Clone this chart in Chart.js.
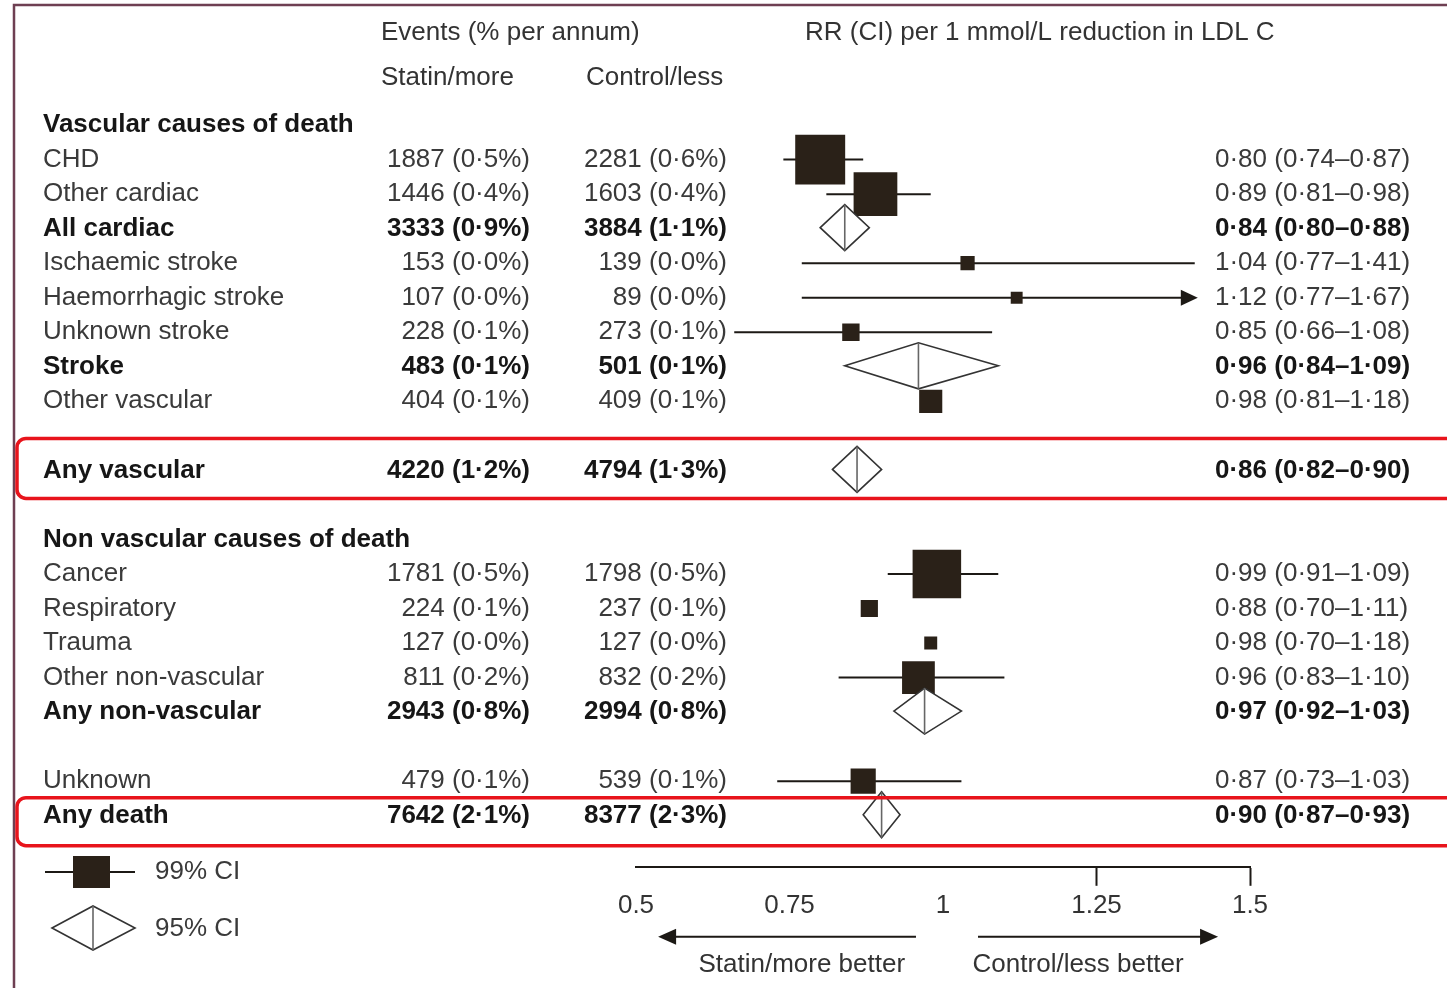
<!DOCTYPE html>
<html>
<head>
<meta charset="utf-8">
<script src="https://cdn.jsdelivr.net/npm/chart.js@4.4.1/dist/chart.umd.min.js"></script>
<style>
  html, body { margin: 0; padding: 0; background: #fff; }
  #wrap { width: 1447px; height: 988px; position: relative; }
</style>
</head>
<body>
<div id="wrap"><canvas id="forest"></canvas></div>
<script>
// rows, top to bottom ('' = spacer row)
const rowLabels = ['Vascular causes of death', 'CHD', 'Other cardiac', 'All cardiac', 'Ischaemic stroke',
    'Haemorrhagic stroke', 'Unknown stroke', 'Stroke', 'Other vascular', '', 'Any vascular', '',
    'Non vascular causes of death', 'Cancer', 'Respiratory', 'Trauma', 'Other non-vascular',
    'Any non-vascular', '', 'Unknown', 'Any death'];
const rowType = ['header', 'item', 'item', 'total', 'item', 'item', 'item', 'total', 'item', '', 'total', '',
    'header', 'item', 'item', 'item', 'item', 'total', '', 'item', 'total'];

const statinEvents  = [null, 1887, 1446, 3333, 153, 107, 228, 483, 404, null, 4220, null, null, 1781, 224, 127, 811, 2943, null, 479, 7642];
const statinPct     = [null, 0.5, 0.4, 0.9, 0.0, 0.0, 0.1, 0.1, 0.1, null, 1.2, null, null, 0.5, 0.1, 0.0, 0.2, 0.8, null, 0.1, 2.1];
const controlEvents = [null, 2281, 1603, 3884, 139, 89, 273, 501, 409, null, 4794, null, null, 1798, 237, 127, 832, 2994, null, 539, 8377];
const controlPct    = [null, 0.6, 0.4, 1.1, 0.0, 0.0, 0.1, 0.1, 0.1, null, 1.3, null, null, 0.5, 0.1, 0.0, 0.2, 0.8, null, 0.1, 2.3];

const rr     = [null, 0.80, 0.89, 0.84, 1.04, 1.12, 0.85, 0.96, 0.98, null, 0.86, null, null, 0.99, 0.88, 0.98, 0.96, 0.97, null, 0.87, 0.90];
const ciLow  = [null, 0.74, 0.81, 0.80, 0.77, 0.77, 0.66, 0.84, 0.81, null, 0.82, null, null, 0.91, 0.70, 0.70, 0.83, 0.92, null, 0.73, 0.87];
const ciHigh = [null, 0.87, 0.98, 0.88, 1.41, 1.67, 1.08, 1.09, 1.18, null, 0.90, null, null, 1.09, 1.11, 1.18, 1.10, 1.03, null, 1.03, 0.93];

const tickValues = [0.5, 0.75, 1, 1.25, 1.5];
const tickLabels = ['0.5', '0.75', '1', '1.25', '1.5'];

// whiskers that do not show in the source figure
const hiddenWhiskers = ['Other vascular', 'Respiratory', 'Trauma'];
const CLIP_MAX = 1.415;

// hand-drawn red boxes (pixel offsets above / below the row)
const highlightBoxes = [
    {row: 'Any vascular', up: 32, down: 28},
    {row: 'Any death', up: 18, down: 30}
];

const FONT = '"Liberation Sans", Arial, sans-serif';
const INK = '#1c1915';
const fmt1 = v => v.toFixed(1).replace('.', '·');
const fmt2 = v => v.toFixed(2).replace('.', '·');

// square side grows with sqrt of events
const squarePoints = [];
const squareRadius = [];
rowType.forEach((t, i) => {
    if (t !== 'item') return;
    squarePoints.push({x: rr[i], y: i});
    squareRadius.push(1.15 * Math.sqrt(statinEvents[i]) / (2 * Math.SQRT1_2));
});

function roundRect(ctx, x, y, w, h, r) {
    ctx.beginPath();
    ctx.moveTo(x + r, y);
    ctx.lineTo(x + w - r, y);
    ctx.arcTo(x + w, y, x + w, y + r, r);
    ctx.lineTo(x + w, y + h - r);
    ctx.arcTo(x + w, y + h, x + w - r, y + h, r);
    ctx.lineTo(x + r, y + h);
    ctx.arcTo(x, y + h, x, y + h - r, r);
    ctx.lineTo(x, y + r);
    ctx.arcTo(x, y, x + r, y, r);
    ctx.closePath();
}

function diamond(ctx, xl, xc, xr, yc, h) {
    ctx.beginPath();
    ctx.moveTo(xl, yc);
    ctx.lineTo(xc, yc - h);
    ctx.lineTo(xr, yc);
    ctx.lineTo(xc, yc + h);
    ctx.closePath();
    ctx.fillStyle = '#fff';
    ctx.fill();
    ctx.strokeStyle = '#333';
    ctx.lineWidth = 1.6;
    ctx.stroke();
    ctx.beginPath();
    ctx.moveTo(xc, yc - h);
    ctx.lineTo(xc, yc + h);
    ctx.strokeStyle = '#666';
    ctx.stroke();
}

const forestPlugin = {
    id: 'forest',
    beforeDraw(chart) {
        const ctx = chart.ctx;
        ctx.save();
        ctx.fillStyle = '#fff';
        ctx.fillRect(0, 0, chart.width, chart.height);
        ctx.restore();
    },
    beforeDatasetsDraw(chart) {
        const {ctx, scales: {x, y}} = chart;
        ctx.save();
        ctx.strokeStyle = INK;
        ctx.fillStyle = INK;
        ctx.lineWidth = 2;
        rowType.forEach((t, i) => {
            if (t !== 'item' || hiddenWhiskers.includes(rowLabels[i])) return;
            const py = y.getPixelForValue(i);
            const x0 = x.getPixelForValue(ciLow[i]);
            const clipped = ciHigh[i] > CLIP_MAX;
            const x1 = x.getPixelForValue(Math.min(ciHigh[i], CLIP_MAX));
            ctx.beginPath();
            ctx.moveTo(x0, py);
            ctx.lineTo(clipped ? x1 - 10 : x1, py);
            ctx.stroke();
            if (clipped) {
                ctx.beginPath();
                ctx.moveTo(x1, py);
                ctx.lineTo(x1 - 17, py - 8);
                ctx.lineTo(x1 - 17, py + 8);
                ctx.closePath();
                ctx.fill();
            }
        });
        ctx.restore();
    },
    afterDraw(chart) {
        const {ctx, scales: {x, y}, chartArea} = chart;
        ctx.save();

        // frame of the source figure
        ctx.strokeStyle = '#6e3f52';
        ctx.lineWidth = 2.5;
        ctx.beginPath();
        ctx.moveTo(14, 988);
        ctx.lineTo(14, 5);
        ctx.lineTo(1447, 5);
        ctx.stroke();

        // diamonds for totals
        rowType.forEach((t, i) => {
            if (t !== 'total') return;
            diamond(ctx, x.getPixelForValue(ciLow[i]), x.getPixelForValue(rr[i]),
                x.getPixelForValue(ciHigh[i]), y.getPixelForValue(i) - 1, 23);
        });

        // column headers
        ctx.textBaseline = 'middle';
        ctx.fillStyle = '#333';
        ctx.font = '26px ' + FONT;
        ctx.textAlign = 'left';
        ctx.fillText('Events (% per annum)', 381, y.getPixelForValue(-2.67));
        ctx.fillText('Statin/more', 381, y.getPixelForValue(-1.36));
        ctx.fillText('Control/less', 586, y.getPixelForValue(-1.36));
        ctx.fillText('RR (CI) per 1 mmol/L reduction in LDL C', 805, y.getPixelForValue(-2.67));

        // table text
        rowLabels.forEach((lab, i) => {
            if (!lab) return;
            const py = y.getPixelForValue(i);
            const bold = rowType[i] !== 'item';
            ctx.font = (bold ? 'bold ' : '') + '26px ' + FONT;
            ctx.fillStyle = bold ? '#161616' : '#3a3a3a';
            ctx.textAlign = 'left';
            ctx.fillText(lab, 43, py);
            if (rowType[i] === 'header') return;
            ctx.textAlign = 'right';
            ctx.fillText(statinEvents[i] + ' (' + fmt1(statinPct[i]) + '%)', 530, py);
            ctx.fillText(controlEvents[i] + ' (' + fmt1(controlPct[i]) + '%)', 727, py);
            ctx.textAlign = 'left';
            ctx.fillText(fmt2(rr[i]) + ' (' + fmt2(ciLow[i]) + '–' + fmt2(ciHigh[i]) + ')', 1215, py);
        });

        // red highlight boxes
        ctx.strokeStyle = '#e8141c';
        ctx.lineWidth = 3.5;
        highlightBoxes.forEach(b => {
            const py = y.getPixelForValue(rowLabels.indexOf(b.row));
            roundRect(ctx, 17, py - b.up, 1460, b.up + b.down, 9);
            ctx.stroke();
        });

        // direction arrows under the axis
        const ay = chartArea.bottom + 70;
        ctx.strokeStyle = INK;
        ctx.fillStyle = INK;
        ctx.lineWidth = 2;
        const la = x.getPixelForValue(0.956), lb = x.getPixelForValue(0.536);
        const ra = x.getPixelForValue(1.057), rb = x.getPixelForValue(1.448);
        ctx.beginPath();
        ctx.moveTo(la, ay); ctx.lineTo(lb + 12, ay);
        ctx.moveTo(ra, ay); ctx.lineTo(rb - 12, ay);
        ctx.stroke();
        ctx.beginPath();
        ctx.moveTo(lb, ay); ctx.lineTo(lb + 18, ay - 8); ctx.lineTo(lb + 18, ay + 8); ctx.closePath();
        ctx.moveTo(rb, ay); ctx.lineTo(rb - 18, ay - 8); ctx.lineTo(rb - 18, ay + 8); ctx.closePath();
        ctx.fill();
        ctx.font = '26px ' + FONT;
        ctx.fillStyle = '#333';
        ctx.textAlign = 'center';
        ctx.fillText('Statin/more better', x.getPixelForValue(0.77), ay + 28);
        ctx.fillText('Control/less better', x.getPixelForValue(1.22), ay + 28);

        // legend
        ctx.strokeStyle = INK;
        ctx.beginPath();
        ctx.moveTo(45, 872); ctx.lineTo(135, 872);
        ctx.stroke();
        ctx.fillStyle = '#2a2118';
        ctx.fillRect(73, 856, 37, 32);
        diamond(ctx, 52, 93, 135, 928, 22);
        ctx.fillStyle = '#3a3a3a';
        ctx.textAlign = 'left';
        ctx.fillText('99% CI', 155, 872);
        ctx.fillText('95% CI', 155, 929);

        ctx.restore();
    }
};

new Chart(document.getElementById('forest'), {
    type: 'scatter',
    data: {
        datasets: [{
            data: squarePoints,
            pointStyle: 'rect',
            pointRadius: squareRadius,
            pointHoverRadius: squareRadius,
            backgroundColor: '#2a2118',
            borderColor: '#2a2118',
            borderWidth: 0
        }]
    },
    plugins: [forestPlugin],
    options: {
        responsive: true,
        maintainAspectRatio: false,
        animation: false,
        events: [],
        layout: {
            padding: {left: 636, right: 197, top: 40, bottom: 63}
        },
        plugins: {
            legend: {display: false},
            tooltip: {enabled: false}
        },
        scales: {
            x: {
                type: 'linear',
                position: 'bottom',
                min: 0.5,
                max: 1.5,
                afterBuildTicks: axis => {
                    axis.ticks = tickValues.map(v => ({value: v}));
                },
                ticks: {
                    autoSkip: false,
                    maxRotation: 0,
                    padding: 4,
                    color: '#333',
                    font: {family: FONT, size: 26},
                    callback: (v, i) => tickLabels[i]
                },
                grid: {
                    drawOnChartArea: false,
                    drawTicks: true,
                    tickLength: 19,
                    tickWidth: 2,
                    tickColor: c => c.tick && c.tick.value >= 1.25 ? INK : 'rgba(0,0,0,0)'
                },
                border: {display: true, color: INK, width: 2}
            },
            y: {
                type: 'linear',
                display: false,
                reverse: true,
                min: -2.464,
                max: 21.48
            }
        }
    }
});
</script>
</body>
</html>
